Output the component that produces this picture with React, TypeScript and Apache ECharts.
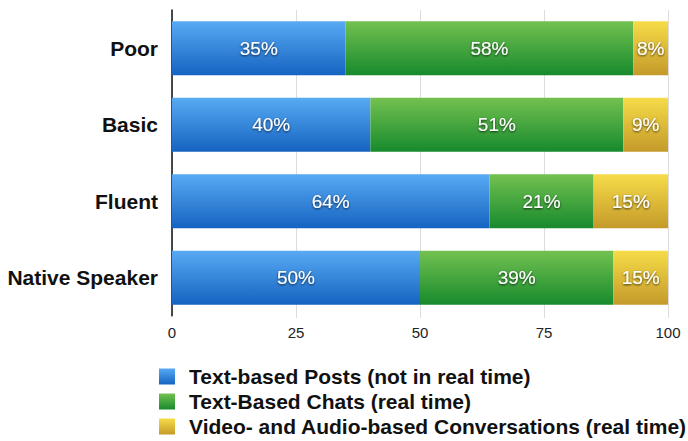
import React, { useEffect, useRef } from "react";
import * as echarts from "echarts";

// Proficiency levels, top to bottom
const levels = ["Poor", "Basic", "Fluent", "Native Speaker"];

// Share of respondents per communication mode (percent)
const textPosts = [35, 40, 64, 50];
const textChats = [58, 51, 21, 39];
const videoAudio = [8, 9, 15, 15];

const seriesNames = [
  "Text-based Posts (not in real time)",
  "Text-Based Chats (real time)",
  "Video- and Audio-based Conversations (real time)",
];

const xTicks = [0, 25, 50, 75, 100];

const grad = (top: string, bottom: string) =>
  new echarts.graphic.LinearGradient(0, 0, 0, 1, [
    { offset: 0, color: top },
    { offset: 1, color: bottom },
  ]);

export default function App() {
  const ref = useRef<HTMLDivElement>(null);

  useEffect(() => {
    if (!ref.current) return;
    const chart = echarts.init(ref.current, undefined, { renderer: "svg" });

    const fills = [
      grad("#58aaf3", "#1563c1"),
      grad("#73c150", "#178a2d"),
      grad("#f6dc48", "#c49a2a"),
    ];
    const values = [textPosts, textChats, videoAudio];

    const label = {
      show: true,
      position: "inside" as const,
      formatter: "{c}%",
      color: "#ffffff",
      fontSize: 19,
      fontFamily: "Liberation Sans, Arial, sans-serif",
      textShadowColor: "rgba(0,0,0,0.75)",
      textShadowBlur: 2,
      textShadowOffsetY: 1,
    };

    chart.setOption({
      animation: false,
      grid: { left: 172, right: 20, top: 10, height: 306 },
      legend: {
        orient: "vertical",
        left: 159,
        top: 366,
        padding: 0,
        itemWidth: 16,
        itemHeight: 16,
        itemGap: 4,
        icon: "rect",
        data: seriesNames,
        selectedMode: false,
        textStyle: {
          fontSize: 21,
          fontWeight: "bold",
          color: "#111",
          fontFamily: "Liberation Sans, Arial, sans-serif",
          padding: [0, 0, 0, 9],
        },
      },
      xAxis: {
        type: "value",
        min: xTicks[0],
        max: xTicks[xTicks.length - 1],
        interval: 25,
        axisLine: { show: false },
        axisTick: {
          show: true,
          length: 2,
          lineStyle: { color: "#dcdcdc" },
        },
        splitLine: { show: true, lineStyle: { color: "#dcdcdc", width: 1 } },
        axisLabel: {
          fontSize: 15,
          color: "#222",
          margin: 9,
          fontFamily: "Liberation Sans, Arial, sans-serif",
        },
      },
      yAxis: {
        type: "category",
        inverse: true,
        data: levels,
        axisLine: { show: true, lineStyle: { color: "#111", width: 1.5 } },
        axisTick: { show: false },
        axisLabel: {
          fontSize: 21,
          fontWeight: "bold",
          color: "#111",
          margin: 14,
          fontFamily: "Liberation Sans, Arial, sans-serif",
        },
      },
      series: seriesNames.map((name, i) => ({
        name,
        type: "bar",
        stack: "total",
        barWidth: 54,
        clip: true,
        data: values[i],
        itemStyle: { color: fills[i] },
        label,
      })),
    });

    return () => chart.dispose();
  }, []);

  return (
    <div
      ref={ref}
      style={{
        position: "fixed",
        left: 0,
        top: 0,
        width: 688,
        height: 441,
        background: "#ffffff",
      }}
    />
  );
}
